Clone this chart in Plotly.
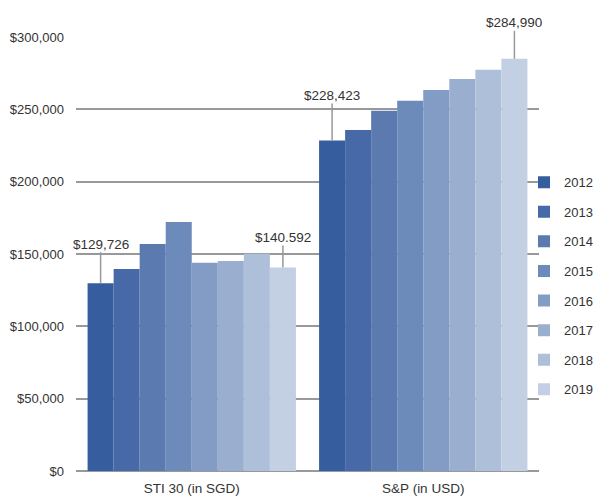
import plotly.graph_objects as go

categories = ["STI 30 (in SGD)", "S&P (in USD)"]
years = ["2012", "2013", "2014", "2015", "2016", "2017", "2018", "2019"]
sti_values = [129726, 139600, 156900, 172100, 144000, 145200, 150200, 140592]
sp_values = [228423, 235700, 249100, 256000, 263400, 271000, 277400, 284990]
colors = ["#365E9F", "#4769A8", "#5A7AB0", "#6C8BBB", "#829CC5", "#9AAFD0", "#AEBFDA", "#C3CFE3"]
label_texts = [("STI", 0, "$129,726", -39), ("STI", 7, "$140.592", -30),
               ("SP", 0, "$228,423", -45), ("SP", 7, "$284,990", -36)]

font_family = "Liberation Sans, Arial, sans-serif"

fig = go.Figure()
for i, yr in enumerate(years):
    fig.add_trace(go.Bar(
        x=categories, y=[sti_values[i], sp_values[i]], name=yr,
        marker=dict(color=colors[i], line=dict(width=0)),
        legendgroup=yr,
    ))

n = len(years)
group_w = 0.9
bar_w = group_w / n
for grp, idx, txt, ay in label_texts:
    cat_i = 0 if grp == "STI" else 1
    val = sti_values[idx] if grp == "STI" else sp_values[idx]
    xpos = cat_i - group_w / 2 + bar_w * (idx + 0.5)
    fig.add_annotation(
        x=xpos, y=val, xref="x", yref="y", text=txt,
        showarrow=True, arrowhead=0, arrowwidth=1.5, arrowcolor="#999999",
        ax=0, ay=ay, font=dict(size=13.5, color="#333333", family=font_family),
        borderpad=0,
    )

plot_left = 76
plot_right = 539
legend_left = 524
legend_x = (legend_left - plot_left) / (plot_right - plot_left)

fig.update_layout(
    width=596, height=499,
    margin=dict(l=plot_left, r=596 - plot_right, t=37, b=28, autoexpand=False),
    paper_bgcolor="white", plot_bgcolor="white",
    barmode="group", bargap=0.1, bargroupgap=0,
    font=dict(family=font_family, size=13, color="#333333"),
    showlegend=True,
    legend=dict(x=legend_x, y=0.70, xanchor="left", yanchor="top",
                font=dict(size=13, color="#333333"), tracegroupgap=9.7,
                itemwidth=30, bgcolor="rgba(0,0,0,0)"),
    xaxis=dict(type="category", range=[-0.5, 1.5], autorange=False,
               showgrid=False, showline=False, ticks="",
               ticklabelstandoff=7, tickfont=dict(size=13.5, color="#333333")),
    yaxis=dict(range=[0, 300000], autorange=False,
               tickvals=[0, 50000, 100000, 150000, 200000, 250000, 300000],
               ticktext=["$0", "$50,000", "$100,000", "$150,000", "$200,000", "$250,000", "$300,000"],
               showgrid=True, gridcolor="#999999", gridwidth=1.5, zeroline=True,
               zerolinecolor="#999999", zerolinewidth=1.5, ticks="", ticklabelstandoff=11,
               tickfont=dict(size=13, color="#333333")),
)

fig.write_html("out.html")
